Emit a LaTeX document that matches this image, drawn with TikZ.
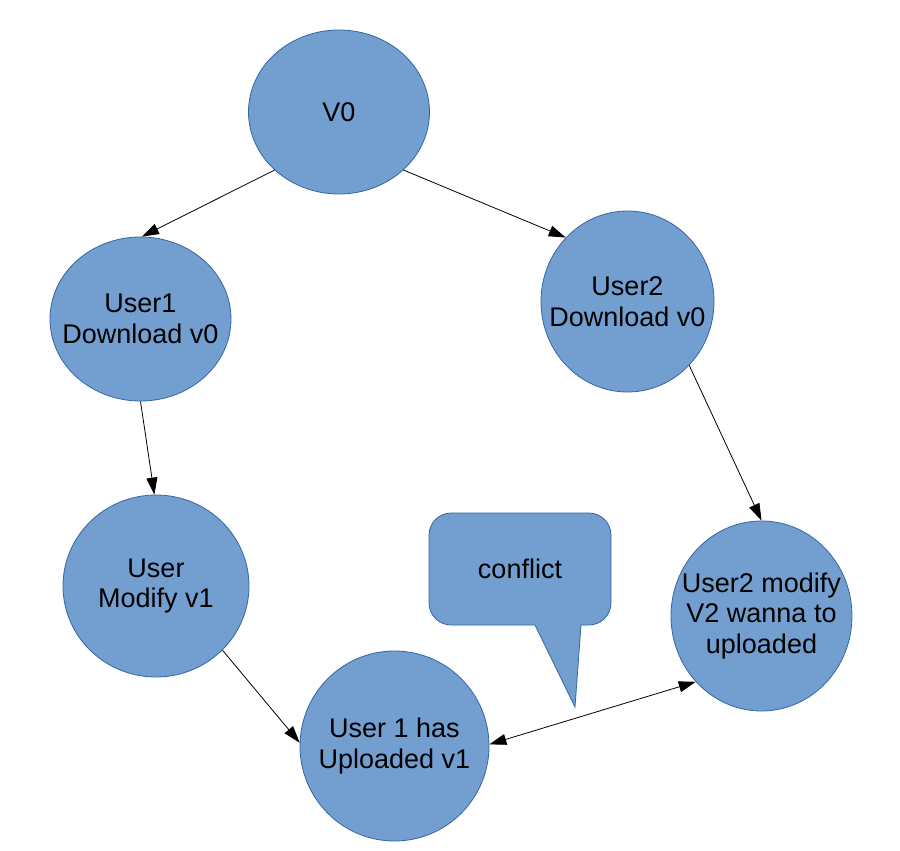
\documentclass[tikz,border=0pt]{standalone}
\usepackage{fontspec}
\setmainfont{Liberation Sans}
\usetikzlibrary{shapes.geometric,arrows.meta}
\definecolor{nodefill}{HTML}{729FCF}
\definecolor{nodeline}{HTML}{3465A4}
\tikzset{
  state/.style={ellipse, draw=nodeline, fill=nodefill, line width=0.8pt, inner sep=0pt},
  txt/.style={align=center, inner sep=0pt, font=\fontsize{27}{30.5}\selectfont},
  conn/.style={draw=black, line width=0.8pt, -{Triangle[length=17pt,width=11pt]}},
  conn2/.style={draw=black, line width=0.8pt, {Triangle[length=17pt,width=11pt]}-{Triangle[length=17pt,width=11pt]}},
  balloon/.style={draw=nodeline, fill=nodefill, line width=0.8pt}
}
\begin{document}
\begin{tikzpicture}[x=1pt,y=-1pt]
\useasboundingbox (0,0) rectangle (900,851);
\node[state, minimum width=181pt, minimum height=164pt] (v0) at (339,112) {};
\node[state, minimum width=181pt, minimum height=164pt] (u1) at (140.5,319) {};
\node[state, minimum width=173pt, minimum height=181pt] (u2) at (627.5,301.5) {};
\node[state, minimum width=186pt, minimum height=182pt] (mod) at (156,586) {};
\node[state, minimum width=189pt, minimum height=190pt] (up) at (394.5,746) {};
\node[state, minimum width=181pt, minimum height=190pt] (u2m) at (761.5,616) {};
\node[txt] (v0t) at (v0.center) {V0};
\node[txt] (u1t) at (u1.center) {User1\\Download v0};
\node[txt] (u2t) at (u2.center) {User2\\Download v0};
\node[txt] (modt) at (mod.center) {User\\Modify v1};
\node[txt] (upt) at (up.center) {User 1 has\\Uploaded v1};
\node[txt] (u2mt) at (u2m.center) {User2 modify\\V2 wanna to\\uploaded};
% callout
\path[balloon] (451,513) -- (589,513) .. controls (601,513) and (611,523) .. (611,535)
  -- (611,603) .. controls (611,615) and (601,625) .. (589,625) -- (581,625)
  -- (575,707) -- (535,625) -- (451,625) .. controls (439,625) and (429,615) .. (429,603)
  -- (429,535) .. controls (429,523) and (439,513) .. (451,513) -- cycle;
\node[txt] (conf) at (520,569) {conflict};
% connectors
\draw[conn] (v0.222.3) -- (u1.89);
\draw[conn] (v0.-42.2) -- (u2.134.1);
\draw[conn] (u1.-90) -- (mod.91);
\draw[conn] (u2.-46.4) -- (u2m.90);
\draw[conn] (mod.-44.1) -- (up.178.2);
\draw[conn2] (up.1.2) -- (u2m.225.2);
\end{tikzpicture}
\end{document}
